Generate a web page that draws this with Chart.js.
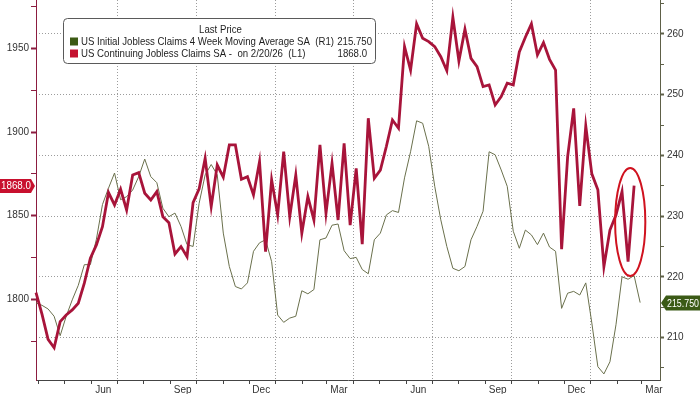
<!DOCTYPE html>
<html><head><meta charset="utf-8">
<script src="https://cdn.jsdelivr.net/npm/chart.js@4.4.1/dist/chart.umd.min.js"></script>
<style>html,body{margin:0;padding:0;background:#fff;}canvas{display:block;}</style>
</head><body>
<canvas id="c" width="700" height="394"></canvas>
<script>
// ---------- DATA ----------
// weekly observations, first one on 2024-03-29
const firstObsDate = [2024, 3, 29];
const continuingClaims = [ // thousands, left axis (L1)
  1804, 1791, 1776, 1771, 1786.6, 1790.6, 1793.6, 1797.6, 1809.6, 1824.5,
  1832.5, 1843.4, 1863.8, 1856.4, 1865.8, 1853.4, 1874.3, 1875.7, 1863.4, 1859.4,
  1864.4, 1849.4, 1845.8, 1827.1, 1831.5, 1825.5, 1857.8, 1866, 1884.3, 1855.4,
  1880.3, 1873, 1892.3, 1892.3, 1871.8, 1873.3, 1862.4, 1882.3, 1828.5, 1871.4,
  1850.4, 1888.3, 1849.4, 1874.3, 1839.5, 1861.4, 1847.4, 1892.3, 1851.4, 1881.3,
  1847.4, 1893.3, 1844.4, 1878.3, 1833, 1908.3, 1872.4, 1877.3, 1891.5, 1907.2,
  1902.3, 1951.1, 1937.1, 1964.7, 1956.1, 1954.1, 1951.1, 1945.1, 1936.7, 1968.7,
  1942.5, 1961.5, 1944.1, 1939.1, 1927.2, 1928.2, 1916.2, 1921.2, 1929.2, 1928.2,
  1947.9, 1956.7, 1964.7, 1946.1, 1953.5, 1943.5, 1937.1, 1829.9, 1885.3, 1914.2,
  1855.8, 1903.6, 1875, 1865.5, 1819.5, 1841.4, 1850.4, 1864.4, 1822.5, 1868.0
];
const initialClaims4wk = [ // thousands, right axis (R1)
  215.7, 215.3, 214.7, 213.5, 210.3, 213.5, 216.2, 218.6, 222, 222,
  226.2, 231.9, 234.6, 237.1, 232.7, 233.2, 234.3, 236.5, 239.4, 236.5,
  235.5, 231.3, 229.9, 230.5, 228.3, 225.3, 225, 232.1, 236.8, 238.5,
  236.8, 227.2, 221.7, 218.4, 218, 219, 224.2, 225.6, 226.1, 222.5,
  213.7, 212.5, 213.2, 213.5, 217.7, 217.2, 217.9, 226.1, 226.4, 228.5,
  228.7, 224.3, 223, 223.2, 221.2, 220.5, 226.1, 227.2, 230.2, 230.9,
  230.6, 236.3, 240.6, 245.7, 245.3, 241.5, 234.9, 229.4, 225, 221.4,
  221, 221.7, 226.1, 228.3, 230.8, 240.6, 240.1, 237.6, 234.9, 227.5,
  224.7, 227.7, 226.9, 225.3, 227.2, 224.9, 224.2, 214.8, 217.3, 217.6,
  217, 219, 212.4, 205.2, 204, 206, 212.1, 220, 219.6, 220.2,
  215.75
];
const monthNames = ['Jan','Feb','Mar','Apr','May','Jun','Jul','Aug','Sep','Oct','Nov','Dec'];
const leftTickValues = [1775, 1800, 1825, 1850, 1875, 1900, 1925, 1950, 1975];
const leftLabelValues = [1800, 1850, 1900, 1950];
const rightTickValues = [205, 210, 215, 220, 225, 230, 235, 240, 245, 250, 255, 260, 265];
const rightLabelValues = [210, 220, 230, 240, 250, 260];
const legendTitle = 'Last Price';
const greenName = 'US Initial Jobless Claims 4 Week Moving Average SA  (R1)';
const redName = 'US Continuing Jobless Claims SA -  on 2/20/26  (L1)';
const greenLast = '215.750';
const redLast = '1868.0';

// ---------- helpers ----------
const DAY0 = Date.UTC(2024, 3, 1);
const dayOf = (y, m, d) => (Date.UTC(y, m - 1, d) - DAY0) / 86400000;
const firstDay = dayOf(...firstObsDate);
const X_MIN = -3, X_MAX = 720;

const redPts = continuingClaims.map((v, i) => ({x: firstDay + 7 * i, y: v}));
const greenPts = initialClaims4wk.map((v, i) => ({x: firstDay + 7 * i, y: v}));

const xInfo = new Map();
for (let i = 0; i < 24; i++) {
  const y = 2024 + Math.floor((3 + i) / 12);
  const m = (3 + i) % 12 + 1;
  const s = dayOf(y, m, 1);
  xInfo.set(s, {start: true, grid: (m - 1) % 3 === 0 && s > 5});
  if (m % 3 === 0) xInfo.set(dayOf(y, m, 15), {label: monthNames[m - 1]});
}
const clear = 'rgba(0,0,0,0)';
const gridGray = '#9c9c9c';
const maroon = '#8c1d40';
const olive = '#5e6048';
const tickFont = {family: '"Liberation Sans", Arial, sans-serif', size: 10};

const overlay = {
  id: 'overlay',
  afterDraw(chart) {
    const ctx = chart.ctx;
    const yL = chart.scales.yL, yR = chart.scales.yR, x = chart.scales.x;
    ctx.save();
    // circle annotation
    const cx1 = x.getPixelForValue(668), cx2 = x.getPixelForValue(703);
    const cy1 = yL.getPixelForValue(1878.5), cy2 = yL.getPixelForValue(1813.9);
    ctx.beginPath();
    ctx.ellipse((cx1 + cx2) / 2, (cy1 + cy2) / 2, (cx2 - cx1) / 2, (cy2 - cy1) / 2, 0, 0, Math.PI * 2);
    ctx.strokeStyle = '#d0121f'; ctx.lineWidth = 2; ctx.stroke();

    // legend box
    ctx.beginPath();
    ctx.roundRect(63.5, 18.5, 312, 45, 4);
    ctx.fillStyle = '#fff'; ctx.fill();
    ctx.strokeStyle = '#5a5a5a'; ctx.lineWidth = 1; ctx.stroke();
    ctx.font = '11px "Liberation Sans", Arial, sans-serif';
    ctx.fillStyle = '#1e1e1e';
    ctx.textBaseline = 'middle';
    const squeeze = Math.min(1, 253 / ctx.measureText(greenName).width);
    ctx.textAlign = 'center';
    ctx.fillText(legendTitle, 220.5, 30, ctx.measureText(legendTitle).width * squeeze);
    ctx.textAlign = 'left';
    ctx.fillStyle = '#3c5a14'; ctx.fillRect(70, 37.5, 8, 8);
    ctx.fillStyle = '#c41230'; ctx.fillRect(70, 49.5, 8, 8);
    ctx.fillStyle = '#1e1e1e';
    ctx.fillText(greenName, 81, 41.5, ctx.measureText(greenName).width * squeeze);
    ctx.fillText(redName, 81, 53.5, ctx.measureText(redName).width * squeeze);
    ctx.textAlign = 'right';
    ctx.fillText(greenLast, 372, 41.5, ctx.measureText(greenLast).width * squeeze);
    ctx.fillText(redLast, 367, 53.5, ctx.measureText(redLast).width * squeeze);

    // last-value tags
    ctx.font = '10px "Liberation Sans", Arial, sans-serif';
    const ly = Math.round(yL.getPixelForValue(continuingClaims[continuingClaims.length - 1]));
    ctx.beginPath();
    ctx.moveTo(0, ly - 7); ctx.lineTo(31, ly - 7); ctx.lineTo(35, ly); ctx.lineTo(31, ly + 7); ctx.lineTo(0, ly + 7); ctx.closePath();
    ctx.fillStyle = '#c8102e'; ctx.fill();
    ctx.fillStyle = '#fff'; ctx.textAlign = 'center';
    ctx.fillText(redLast, 16, ly + 0.5, 30);
    const ry = Math.round(yR.getPixelForValue(initialClaims4wk[initialClaims4wk.length - 1]));
    ctx.beginPath();
    ctx.moveTo(661, ry); ctx.lineTo(666, ry - 7.5); ctx.lineTo(700, ry - 7.5); ctx.lineTo(700, ry + 7.5); ctx.lineTo(666, ry + 7.5); ctx.closePath();
    ctx.fillStyle = '#3b5a16'; ctx.fill();
    ctx.fillStyle = '#fff';
    ctx.font = '11px "Liberation Sans", Arial, sans-serif';
    ctx.fillText(greenLast, 683, ry + 0.5, 32);
    ctx.restore();
  }
};

new Chart(document.getElementById('c'), {
  type: 'line',
  data: {
    datasets: [
      {label: redName, data: redPts, yAxisID: 'yL', borderColor: '#a8143a', borderWidth: 2.8,
       pointRadius: 0, tension: 0, borderJoinStyle: 'miter', clip: 2},
      {label: greenName, data: greenPts, yAxisID: 'yR', borderColor: '#6a704c', borderWidth: 1,
       pointRadius: 0, tension: 0, clip: 2}
    ]
  },
  options: {
    responsive: false, animation: false, devicePixelRatio: 1,
    layout: {padding: 0},
    plugins: {legend: {display: false}, tooltip: {enabled: false}},
    scales: {
      x: {
        type: 'linear', min: X_MIN, max: X_MAX,
        afterBuildTicks: s => { s.ticks = [...xInfo.keys()].filter(v => v >= X_MIN && v <= X_MAX).sort((a, b) => a - b).map(v => ({value: v})); },
        afterFit: s => { s.height = 14; s.paddingLeft = 0; s.paddingRight = 0; },
        ticks: {autoSkip: false, maxRotation: 0, padding: 0, font: tickFont, color: '#333',
          callback: v => { const i = xInfo.get(v); return i && i.label ? i.label : ''; }},
        grid: {
          color: c => { const i = c.tick && xInfo.get(c.tick.value); return i && i.grid ? gridGray : clear; },
          tickColor: c => { const i = c.tick && xInfo.get(c.tick.value); return i && i.start ? '#444' : clear; },
          tickLength: 4, tickBorderDash: [], lineWidth: 1
        },
        border: {color: '#444', width: 1, dash: [1, 2]}
      },
      yL: {
        type: 'linear', position: 'left', min: 1751.7, max: 1979,
        afterBuildTicks: s => { s.ticks = leftTickValues.map(v => ({value: v})); },
        afterFit: s => { s.width = 36; s.paddingTop = 0; s.paddingBottom = 0; },
        ticks: {autoSkip: false, padding: 2, font: tickFont, color: '#333',
          callback: v => leftLabelValues.includes(v) ? String(v) : ''},
        grid: {drawOnChartArea: false, tickLength: 5, tickColor: maroon,
          tickWidth: c => (c.tick && leftLabelValues.includes(c.tick.value)) ? 2 : 1},
        border: {color: maroon, width: 1}
      },
      yR: {
        type: 'linear', position: 'right', min: 203.0, max: 265.6,
        afterBuildTicks: s => { s.ticks = rightTickValues.map(v => ({value: v})); },
        afterFit: s => { s.width = 40; s.paddingTop = 0; s.paddingBottom = 0; },
        ticks: {autoSkip: false, padding: 3, font: tickFont, color: '#333',
          callback: v => rightLabelValues.includes(v) ? String(v) : ''},
        grid: {
          color: c => (c.tick && rightLabelValues.includes(c.tick.value)) ? gridGray : clear,
          tickColor: olive, tickLength: 4, tickBorderDash: [], lineWidth: 1,
          tickWidth: c => (c.tick && rightLabelValues.includes(c.tick.value)) ? 2 : 1
        },
        border: {color: olive, width: 1, dash: [1, 2]}
      }
    }
  },
  plugins: [overlay]
});
</script>
</body></html>
